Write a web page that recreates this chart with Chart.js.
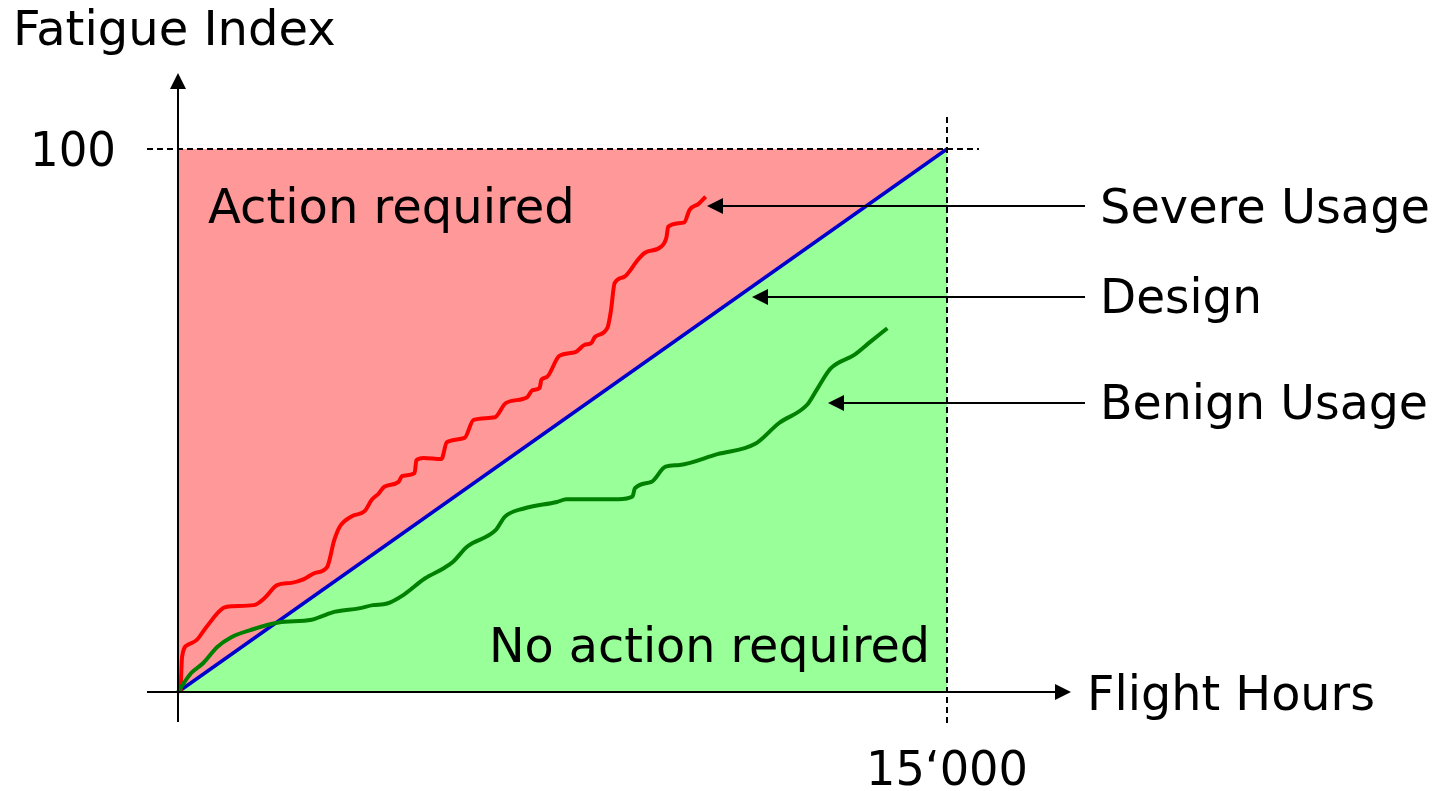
<!DOCTYPE html>
<html>
<head>
<meta charset="utf-8">
<script src="https://cdn.jsdelivr.net/npm/chart.js@4/dist/chart.umd.min.js"></script>
<style>
  html, body { margin: 0; padding: 0; background: #fff; }
  #fatigue { display: block; }
</style>
</head>
<body>
<canvas id="fatigue" width="1445" height="791"></canvas>
<script>
// data
var designHours = [0, 15000];
var designIndex = [0, 100];

var severeHours = [50, 80, 193, 367, 540, 890, 1063, 1480, 1690, 1933, 2212, 2456, 2665, 2908,
  3049, 3152, 3396, 3640, 3780, 3919, 4024, 4303, 4371, 4615, 4650, 4791, 5138, 5243, 5590,
  5766, 6183, 6392, 6810, 6915, 7053, 7089, 7194, 7438, 7752, 7925, 8064, 8134, 8378, 8446,
  8516, 8692, 8971, 9109, 9421, 9527, 9562, 9876, 9979, 10155, 10293];
var severeIndex = [0, 6.5, 8.7, 9.6, 11.8, 15.5, 15.8, 16.0, 17.3, 19.7, 20.1, 20.8, 21.9, 23.0,
  28.0, 30.4, 32.4, 33.3, 35.4, 36.6, 37.8, 38.7, 39.8, 40.3, 42.7, 43.1, 42.9, 46.0, 46.8,
  50.1, 50.6, 53.2, 54.3, 55.6, 56.0, 57.5, 58.0, 61.9, 62.6, 63.9, 64.3, 65.4, 67.1, 70.3,
  75.3, 76.4, 79.6, 80.9, 82.0, 83.7, 85.7, 86.5, 88.8, 89.9, 91.2];

var benignHours = [0, 47, 257, 488, 765, 1040, 1408, 1960, 2606, 2789, 3066, 3527, 3802, 4079,
  4401, 4814, 5183, 5366, 5643, 6195, 6378, 6747, 7393, 7576, 8589, 8866, 8911, 9234, 9509,
  9786, 10522, 11259, 11719, 12271, 12455, 12732, 13192, 13467, 13836];
var benignIndex = [0, 0.7, 3.5, 5.3, 8.3, 10.1, 11.4, 12.8, 13.3, 13.9, 14.8, 15.4, 16.0, 16.3,
  17.9, 20.9, 22.8, 24.0, 26.8, 29.8, 32.3, 33.8, 35.0, 35.5, 35.5, 36.0, 37.5, 38.7, 41.5,
  41.8, 43.8, 45.7, 49.5, 52.9, 55.6, 59.6, 62.1, 64.2, 67.0];

var xTicks = [15000];
var xTickLabels = ["15\u2018000"];
var yTicks = [100];
var yTickLabels = ["100"];

function pts(xs, ys) {
  return xs.map(function (x, i) { return { x: x, y: ys[i] }; });
}

var FONT = "48px 'DejaVu Sans'";

function label(ctx, text, x, y, w, align) {
  ctx.textAlign = align || "left";
  ctx.fillText(text, x, y, w);
}

function arrow(ctx, x1, y1, x2, y2, len, half) {
  var a = Math.atan2(y2 - y1, x2 - x1);
  ctx.beginPath();
  ctx.moveTo(x1, y1);
  ctx.lineTo(x2 - Math.cos(a) * len, y2 - Math.sin(a) * len);
  ctx.stroke();
  ctx.beginPath();
  ctx.moveTo(x2, y2);
  ctx.lineTo(x2 - Math.cos(a) * len - Math.sin(a) * half, y2 - Math.sin(a) * len + Math.cos(a) * half);
  ctx.lineTo(x2 - Math.cos(a) * len + Math.sin(a) * half, y2 - Math.sin(a) * len - Math.cos(a) * half);
  ctx.closePath();
  ctx.fill();
}

var decor = {
  id: "decor",
  afterDatasetsDraw: function (chart) {
    var ctx = chart.ctx;
    var sx = chart.scales.x, sy = chart.scales.y;
    var x0 = sx.getPixelForValue(0), y0 = sy.getPixelForValue(0);
    var xEnd = sx.getPixelForValue(xTicks[0]);
    var yTop = sy.getPixelForValue(yTicks[0]);

    ctx.save();
    ctx.strokeStyle = "#000";
    ctx.fillStyle = "#000";

    // dashed guides
    ctx.lineWidth = 2;
    ctx.setLineDash([6, 4]);
    ctx.beginPath();
    ctx.moveTo(x0 - 31, yTop);
    ctx.lineTo(xEnd + 32, yTop);
    ctx.moveTo(xEnd, yTop - 32);
    ctx.lineTo(xEnd, y0 + 32);
    ctx.stroke();
    ctx.setLineDash([]);

    // axes
    ctx.lineWidth = 2;
    arrow(ctx, x0 - 31, y0, 1071, y0, 16, 8);
    arrow(ctx, x0, y0 + 30, x0, 73, 16, 8);

    // pointer arrows
    arrow(ctx, 1085, 206, 707, 206, 16, 8);
    arrow(ctx, 1085, 297, 752, 297, 16, 8);
    arrow(ctx, 1085, 403, 828, 403, 16, 8);

    // texts
    ctx.font = FONT;
    ctx.textBaseline = "alphabetic";
    label(ctx, "Fatigue Index", 13, 45, 328);
    label(ctx, yTickLabels[0], 116, yTop + 17, 86, "right");
    label(ctx, xTickLabels[0], xEnd, 785, 162, "center");
    label(ctx, "Flight Hours", 1087, 710, 288);
    label(ctx, "Action required", 208, 223, 367);
    label(ctx, "No action required", 489, 662, 441);
    label(ctx, "Severe Usage", 1100, 223, 330);
    label(ctx, "Design", 1100, 313, 162);
    label(ctx, "Benign Usage", 1100, 419, 328);
    ctx.restore();
  }
};

var chart = new Chart(document.getElementById("fatigue").getContext("2d"), {
  type: "scatter",
  data: {
    datasets: [{
        label: "Action required",
        data: pts(designHours, designIndex),
        order: 10,
        showLine: true,
        borderWidth: 0,
        pointRadius: 0,
        backgroundColor: "#FF9999",
        fill: { target: { value: 100 } }
      },
      {
        label: "No action required",
        data: pts(designHours, designIndex),
        order: 9,
        showLine: true,
        borderWidth: 0,
        pointRadius: 0,
        backgroundColor: "#99FF99",
        fill: "origin"
      },
      {
        label: "Design",
        data: pts(designHours, designIndex),
        order: 3,
        showLine: true,
        borderColor: "#0000CC",
        borderWidth: 3.5,
        pointRadius: 0,
        fill: false
      },
      {
        label: "Severe Usage",
        data: pts(severeHours, severeIndex),
        order: 2,
        showLine: true,
        borderColor: "#FF0000",
        borderWidth: 4,
        pointRadius: 0,
        cubicInterpolationMode: "monotone",
        fill: false
      },
      {
        label: "Benign Usage",
        data: pts(benignHours, benignIndex),
        order: 1,
        showLine: true,
        borderColor: "#008000",
        borderWidth: 4,
        pointRadius: 0,
        cubicInterpolationMode: "monotone",
        fill: false
      }
    ]
  },
  options: {
    responsive: false,
    animation: false,
    layout: { padding: 0 },
    plugins: {
      legend: { display: false },
      tooltip: { enabled: false }
    },
    scales: {
      x: { type: "linear", min: -3472, max: 24714, display: false },
      y: { type: "linear", min: -18.23, max: 127.44, display: false }
    }
  },
  plugins: [decor]
});
</script>
</body>
</html>
